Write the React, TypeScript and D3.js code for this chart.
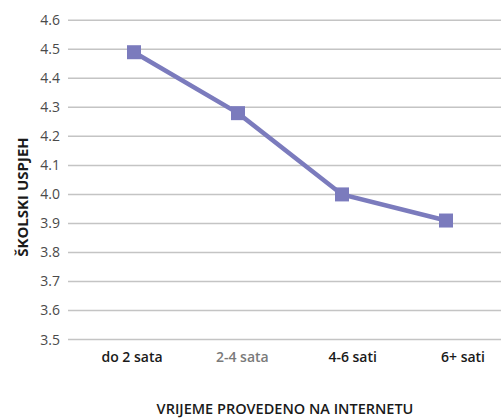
import React from "react";
import * as d3 from "d3";

const categories = ["do 2 sata", "2-4 sata", "4-6 sati", "6+ sati"];
const values = [4.49, 4.28, 4.0, 3.91];
const yTicks = [3.5, 3.6, 3.7, 3.8, 3.9, 4.0, 4.1, 4.2, 4.3, 4.4, 4.5, 4.6];
const xTitle = "VRIJEME PROVEDENO NA INTERNETU";
const yTitle = "ŠKOLSKI USPJEH";

const W = 501, H = 418;

export default function App() {
  const y = d3.scaleLinear().domain([3.5, 4.6]).range([339.5, 20.3]);
  const xPts = d3.scalePoint<string>().domain(categories).range([134, 446]);
  const xLbl = d3.scalePoint<string>().domain(categories).range([132, 463]);
  const line = d3.line<number>().x((_, i) => xPts(categories[i])!).y(d => y(d));
  const font = "'Open Sans', sans-serif";
  const ms = 14;
  return (
    <svg width={W} height={H} style={{ position: "absolute", left: 0, top: 0 }} fontFamily={font}>
      {yTicks.map(t => (
        <g key={t}>
          <line x1={68} x2={W} y1={y(t)} y2={y(t)} stroke="#c4c4c4" strokeWidth={1.5} />
          <text x={60} y={y(t) + 5} textAnchor="end" fontSize={14} fill="#4a4a4a">{t.toFixed(1)}</text>
        </g>
      ))}
      {categories.map((c, i) => (
        <text key={c} x={xLbl(c)} y={361.5} textAnchor="middle" fontSize={14} fontWeight={600}
          fill={i === 1 ? "#7a7a7a" : "#1a1a1a"}>{c}</text>
      ))}
      <path d={line(values) || ""} fill="none" stroke="#7b7bbd" strokeWidth={4.5} />
      {values.map((v, i) => (
        <rect key={i} x={xPts(categories[i])! - ms / 2} y={y(v) - ms / 2} width={ms} height={ms} fill="#7b7bbd" />
      ))}
      <text x={285} y={414} textAnchor="middle" fontSize={14.5} fontWeight={600} fill="#1a1a1a">{xTitle}</text>
      <text transform={`translate(28,197) rotate(-90)`} textAnchor="middle" fontSize={15} fontWeight={700} fill="#1a1a1a">{yTitle}</text>
    </svg>
  );
}
